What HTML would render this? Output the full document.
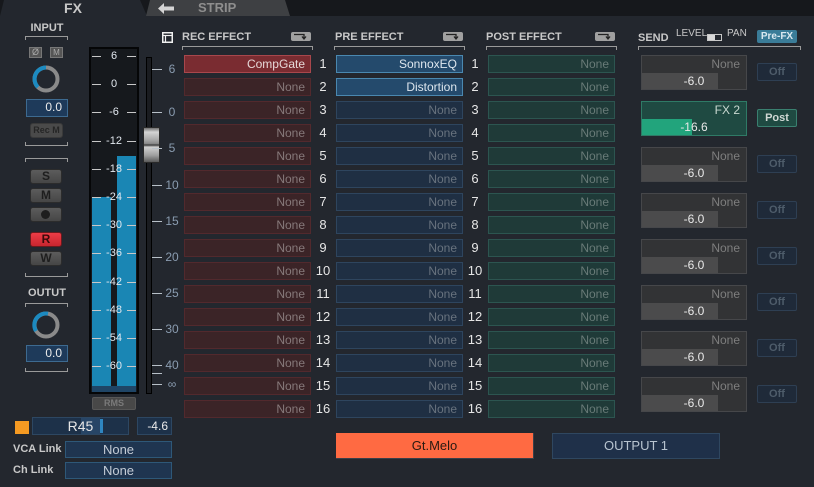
<!DOCTYPE html>
<html><head><meta charset="utf-8">
<style>
*{margin:0;padding:0;box-sizing:border-box}
body{width:814px;height:487px;background:#23272e;position:relative;overflow:hidden;font-family:"Liberation Sans",sans-serif}
div{position:absolute}
.row{left:0;width:814px;height:18px}
.b{height:18px;width:127px;font-size:12px;text-align:right;padding-right:5px;line-height:16px;white-space:nowrap}
.r{left:184px;background:#3b2427;border:1px solid #52292d;color:#86797a}
.p{left:336px;background:#1f2f43;border:1px solid #2e455e;color:#68727e}
.q{left:488px;background:#1f3a38;border:1px solid #2c5550;color:#687a77}
.rh{background:#7a2c31;border-color:#a8474c;color:#e6d8d8}
.ph{background:#244a6c;border-color:#4a88b0;color:#dde6ee}
.n{width:16px;text-align:center;font-size:13px;color:#e6e6e6;line-height:18px;top:0}
.n1{left:315px}.n2{left:467px}
.hd{font-size:11px;font-weight:bold;color:#c8c8c8;top:31px}
.br{height:4px;border:1px solid #9a9a9a;border-bottom:none;}
.brb{height:4px;border:1px solid #9a9a9a;border-top:none;}
.ib{width:20px;height:9px;background:#a0a0a0;border-radius:2px;top:32px}
.sb{left:641px;width:106px;height:35px;background:#323335;border:1px solid #46474a}
.sb .t{right:6px;top:1px;font-size:12px;color:#7e7e7e;line-height:15px}
.sb .lv{left:0;top:17px;width:76px;height:16px;background:#4b4b4c}
.sb .v{left:0;top:17px;width:104px;height:16px;text-align:center;font-size:12px;color:#e8e8e8;line-height:16px}
.off{left:757px;width:40px;height:18px;background:#1f2a39;border:1px solid #2e3f53;border-radius:2px;color:#4e5c6a;font-size:11px;font-weight:bold;text-align:center;line-height:16px}
.lb{left:30px;width:32px;height:15px;border-radius:3px;background:linear-gradient(#5c5c5c,#464646);border:1px solid #2c2c2c;font-size:12px;font-weight:bold;color:#1e1e1e;text-align:center;line-height:13px}
.ml{left:102px;width:24px;text-align:center;font-size:11px;color:#e2e8ef;line-height:14px}
.tk{height:1px;background:#c8c8c8;width:9px}
.ft{left:152px;width:10px;height:1px;background:#b8c0c8}
.fl{left:164px;width:16px;text-align:center;font-size:12px;color:#8a9cb0;line-height:14px}
.vb{background:#1e3a5a;border:1px solid #3d6a90;color:#eaeaea;font-size:12px;text-align:right;padding-right:5px;line-height:15px}
</style></head><body>

<!-- top tab bar -->
<div style="left:0;top:0;width:814px;height:16px;background:#16181c"></div>
<div style="left:0;top:0;width:147px;height:16px;background:#23272e;clip-path:polygon(4px 0,140px 0,147px 16px,0 16px)"></div>
<div style="left:146px;top:0;width:145px;height:16px;background:#3e4043;clip-path:polygon(4px 0,139px 0,144px 16px,0 16px)"></div>
<div style="left:58px;top:0;width:30px;text-align:center;font-size:14px;font-weight:bold;color:#c8c8c8;line-height:16px">FX</div>
<svg style="position:absolute;left:158px;top:3px" width="17" height="11"><path d="M0 5.5 L6 0 L6 3.5 L16 3.5 L16 7.5 L6 7.5 L6 11 Z" fill="#d4d4d4"/></svg>
<div style="left:198px;top:0;font-size:13px;font-weight:bold;color:#8e8e8e;line-height:16px">STRIP</div>

<!-- left panel INPUT -->
<div style="left:26px;top:22px;width:42px;text-align:center;font-size:11px;font-weight:bold;color:#c8c8c8">INPUT</div>
<div class="br" style="left:25px;top:36px;width:43px"></div>
<div style="left:29px;top:47px;width:13px;height:11px;background:#555;border:1px solid #777;font-size:9px;color:#aaa;text-align:center;line-height:9px">Ø</div>
<div style="left:50px;top:47px;width:13px;height:11px;background:#555;border:1px solid #777;font-size:8px;color:#aaa;text-align:center;line-height:9px">M</div>
<svg style="position:absolute;left:30px;top:63px" width="32" height="32"><circle cx="16" cy="16" r="11.5" fill="none" stroke="#8a8a8a" stroke-width="4"/><path d="M7.9 24.1 A11.5 11.5 0 0 1 16 4.5" fill="none" stroke="#1c8ac0" stroke-width="4"/></svg>
<div class="vb" style="left:26px;top:99px;width:42px;height:18px">0.0</div>
<div style="left:30px;top:123px;width:33px;height:15px;border-radius:3px;background:#4a4a4a;border:1px solid #3a3a3a;font-size:9px;font-weight:bold;color:#262626;text-align:center;line-height:13px">Rec M</div>
<div class="brb" style="left:25px;top:142px;width:43px"></div>

<div class="br" style="left:25px;top:158px;width:43px"></div>
<div class="lb" style="top:169px">S</div>
<div class="lb" style="top:188px">M</div>
<div class="lb" style="top:207px"><div style="left:10px;top:2px;width:9px;height:9px;border-radius:50%;background:#1e1e1e"></div></div>
<div class="lb" style="top:232px;background:linear-gradient(#ec3c46,#c8262f);border-color:#6a1a1e;color:#3a0a0a">R</div>
<div class="lb" style="top:251px">W</div>
<div class="brb" style="left:25px;top:273px;width:43px"></div>

<div style="left:26px;top:287px;width:42px;text-align:center;font-size:11px;font-weight:bold;color:#c8c8c8">OUTUT</div>
<div class="br" style="left:25px;top:303px;width:43px"></div>
<svg style="position:absolute;left:30px;top:309px" width="32" height="32"><circle cx="16" cy="16" r="11.5" fill="none" stroke="#8a8a8a" stroke-width="4"/><path d="M6 22 A11.5 11.5 0 0 1 18 4.7" fill="none" stroke="#1c8ac0" stroke-width="4"/></svg>
<div class="vb" style="left:26px;top:345px;width:42px;height:17px">0.0</div>
<div class="brb" style="left:25px;top:368px;width:43px"></div>

<!-- meter -->
<div style="left:89px;top:47px;width:50px;height:347px;background:#16191d;border:2px solid #050607"></div>
<div style="left:92px;top:197px;width:19px;height:189px;background:#1a86b4"></div>
<div style="left:117px;top:156px;width:19px;height:230px;background:#1a86b4"></div>
<div style="left:92px;top:386px;width:44px;height:6px;background:#1f4566"></div>

<div class="tk" style="left:92px;top:56px"></div><div class="tk" style="left:127px;top:56px"></div><div class="ml" style="top:49px">6</div>
<div class="tk" style="left:92px;top:84px"></div><div class="tk" style="left:127px;top:84px"></div><div class="ml" style="top:77px">0</div>
<div class="tk" style="left:92px;top:112px"></div><div class="tk" style="left:127px;top:112px"></div><div class="ml" style="top:105px">-6</div>
<div class="tk" style="left:92px;top:141px"></div><div class="tk" style="left:127px;top:141px"></div><div class="ml" style="top:134px">-12</div>
<div class="tk" style="left:92px;top:169px"></div><div class="tk" style="left:127px;top:169px"></div><div class="ml" style="top:162px">-18</div>
<div class="tk" style="left:92px;top:197px"></div><div class="tk" style="left:127px;top:197px"></div><div class="ml" style="top:190px">-24</div>
<div class="tk" style="left:92px;top:225px"></div><div class="tk" style="left:127px;top:225px"></div><div class="ml" style="top:218px">-30</div>
<div class="tk" style="left:92px;top:253px"></div><div class="tk" style="left:127px;top:253px"></div><div class="ml" style="top:246px">-36</div>
<div class="tk" style="left:92px;top:282px"></div><div class="tk" style="left:127px;top:282px"></div><div class="ml" style="top:275px">-42</div>
<div class="tk" style="left:92px;top:310px"></div><div class="tk" style="left:127px;top:310px"></div><div class="ml" style="top:303px">-48</div>
<div class="tk" style="left:92px;top:338px"></div><div class="tk" style="left:127px;top:338px"></div><div class="ml" style="top:331px">-54</div>
<div class="tk" style="left:92px;top:366px"></div><div class="tk" style="left:127px;top:366px"></div><div class="ml" style="top:359px">-60</div>

<div style="left:92px;top:397px;width:44px;height:13px;background:#484848;border:1px solid #575757;border-radius:2px;font-size:9px;font-weight:bold;color:#7a7a7a;text-align:center;line-height:11px">RMS</div>

<!-- fader -->
<div style="left:146px;top:57px;width:6px;height:337px;background:#1a1c20;border:1px solid #000"></div>
<div style="left:143px;top:127px;width:17px;height:36px;border:1px solid #2a2a2a;background:linear-gradient(#707070 0%,#d4d4d4 12%,#a8a8a8 35%,#8a8a8a 46%,#3a3a3a 50%,#d0d0d0 56%,#a0a0a0 80%,#5a5a5a 100%)"></div>
<div class="ft" style="top:69px"></div><div class="fl" style="top:62px">6</div>
<div class="ft" style="top:112px"></div><div class="fl" style="top:105px">0</div>
<div class="ft" style="top:148px"></div><div class="fl" style="top:141px">5</div>
<div class="ft" style="top:185px"></div><div class="fl" style="top:178px">10</div>
<div class="ft" style="top:221px"></div><div class="fl" style="top:214px">15</div>
<div class="ft" style="top:257px"></div><div class="fl" style="top:250px">20</div>
<div class="ft" style="top:293px"></div><div class="fl" style="top:286px">25</div>
<div class="ft" style="top:329px"></div><div class="fl" style="top:322px">30</div>
<div class="ft" style="top:365px"></div><div class="fl" style="top:358px">40</div>
<div class="ft" style="top:373px"></div>
<div class="ft" style="top:384px"></div><div class="fl" style="top:377px">∞</div>

<!-- bottom left -->
<div style="left:15px;top:421px;width:14px;height:13px;background:#f59a22"></div>
<div style="left:32px;top:417px;width:97px;height:18px;background:#1d3149;border:1px solid #2d4762"></div>
<div style="left:81px;top:418px;width:19px;height:16px;background:#274566"></div>
<div style="left:100px;top:419px;width:3px;height:14px;background:#2f86c0"></div>
<div style="left:32px;top:417px;width:97px;height:18px;text-align:center;font-size:14px;color:#e6e6e6;line-height:18px">R45</div>
<div class="vb" style="left:137px;top:417px;width:35px;height:18px;background:#1d3149;border-color:#2d4762;padding-right:3px;line-height:16px">-4.6</div>
<div style="left:13px;top:442px;font-size:11px;font-weight:bold;color:#c8c8c8;line-height:14px">VCA Link</div>
<div style="left:65px;top:441px;width:107px;height:17px;background:#1f3550;border:1px solid #2e5878;text-align:center;font-size:13px;color:#c4ccd6;line-height:15px">None</div>
<div style="left:13px;top:463px;font-size:11px;font-weight:bold;color:#c8c8c8;line-height:14px">Ch Link</div>
<div style="left:65px;top:462px;width:107px;height:17px;background:#1f3550;border:1px solid #2e5878;text-align:center;font-size:13px;color:#c4ccd6;line-height:15px">None</div>

<!-- headers -->
<svg style="position:absolute;left:162px;top:32px" width="11" height="11"><rect x="0.75" y="0.75" width="9.5" height="9.5" fill="none" stroke="#f0f0f0" stroke-width="1.5"/><line x1="1" y1="3.5" x2="10" y2="3.5" stroke="#f0f0f0" stroke-width="1.2"/><line x1="3.5" y1="3.5" x2="3.5" y2="10" stroke="#f0f0f0" stroke-width="1.2"/></svg>
<div class="hd" style="left:182px">REC EFFECT</div>
<div class="ib" style="left:291px"><svg width="20" height="9" style="position:absolute;left:0;top:0"><path d="M3 2.5 H13 V6.5 M11 4.5 L13 7 L15 4.5" fill="none" stroke="#222" stroke-width="1.3"/></svg></div>
<div class="br" style="left:182px;top:46px;width:131px"></div>
<div class="hd" style="left:335px">PRE EFFECT</div>
<div class="ib" style="left:443px"><svg width="20" height="9" style="position:absolute;left:0;top:0"><path d="M3 2.5 H13 V6.5 M11 4.5 L13 7 L15 4.5" fill="none" stroke="#222" stroke-width="1.3"/></svg></div>
<div class="br" style="left:334px;top:46px;width:131px"></div>
<div class="hd" style="left:486px">POST EFFECT</div>
<div class="ib" style="left:595px"><svg width="20" height="9" style="position:absolute;left:0;top:0"><path d="M3 2.5 H13 V6.5 M11 4.5 L13 7 L15 4.5" fill="none" stroke="#222" stroke-width="1.3"/></svg></div>
<div class="br" style="left:486px;top:46px;width:131px"></div>

<div class="hd" style="left:638px;top:32px">SEND</div>
<div style="left:676px;top:28px;font-size:10px;color:#c8c8c8">LEVEL</div>
<div style="left:707px;top:34px;width:15px;height:7px;border:1px solid #c8c8c8;background:#23272e"><div style="left:0;top:0;width:7px;height:5px;background:#d8d8d8"></div></div>
<div style="left:727px;top:28px;font-size:10px;color:#c8c8c8">PAN</div>
<div style="left:757px;top:30px;width:40px;height:13px;background:#3a7c98;border-radius:2px;font-size:10px;font-weight:bold;color:#dbe9f0;text-align:center;line-height:13px">Pre-FX</div>
<div class="br" style="left:638px;top:46px;width:163px"></div>

<!-- rows -->
<div class="row" style="top:55px"><div class="b r rh">CompGate</div><div class="n n1">1</div><div class="b p ph">SonnoxEQ</div><div class="n n2">1</div><div class="b q">None</div></div>
<div class="row" style="top:78px"><div class="b r">None</div><div class="n n1">2</div><div class="b p ph">Distortion</div><div class="n n2">2</div><div class="b q">None</div></div>
<div class="row" style="top:101px"><div class="b r">None</div><div class="n n1">3</div><div class="b p">None</div><div class="n n2">3</div><div class="b q">None</div></div>
<div class="row" style="top:124px"><div class="b r">None</div><div class="n n1">4</div><div class="b p">None</div><div class="n n2">4</div><div class="b q">None</div></div>
<div class="row" style="top:147px"><div class="b r">None</div><div class="n n1">5</div><div class="b p">None</div><div class="n n2">5</div><div class="b q">None</div></div>
<div class="row" style="top:170px"><div class="b r">None</div><div class="n n1">6</div><div class="b p">None</div><div class="n n2">6</div><div class="b q">None</div></div>
<div class="row" style="top:193px"><div class="b r">None</div><div class="n n1">7</div><div class="b p">None</div><div class="n n2">7</div><div class="b q">None</div></div>
<div class="row" style="top:216px"><div class="b r">None</div><div class="n n1">8</div><div class="b p">None</div><div class="n n2">8</div><div class="b q">None</div></div>
<div class="row" style="top:239px"><div class="b r">None</div><div class="n n1">9</div><div class="b p">None</div><div class="n n2">9</div><div class="b q">None</div></div>
<div class="row" style="top:262px"><div class="b r">None</div><div class="n n1">10</div><div class="b p">None</div><div class="n n2">10</div><div class="b q">None</div></div>
<div class="row" style="top:285px"><div class="b r">None</div><div class="n n1">11</div><div class="b p">None</div><div class="n n2">11</div><div class="b q">None</div></div>
<div class="row" style="top:308px"><div class="b r">None</div><div class="n n1">12</div><div class="b p">None</div><div class="n n2">12</div><div class="b q">None</div></div>
<div class="row" style="top:331px"><div class="b r">None</div><div class="n n1">13</div><div class="b p">None</div><div class="n n2">13</div><div class="b q">None</div></div>
<div class="row" style="top:354px"><div class="b r">None</div><div class="n n1">14</div><div class="b p">None</div><div class="n n2">14</div><div class="b q">None</div></div>
<div class="row" style="top:377px"><div class="b r">None</div><div class="n n1">15</div><div class="b p">None</div><div class="n n2">15</div><div class="b q">None</div></div>
<div class="row" style="top:400px"><div class="b r">None</div><div class="n n1">16</div><div class="b p">None</div><div class="n n2">16</div><div class="b q">None</div></div>

<!-- sends -->
<div class="sb" style="top:55px"><div class="t">None</div><div class="lv"></div><div class="v">-6.0</div></div>
<div class="off" style="top:63px">Off</div>
<div class="sb" style="top:101px;background:#1f4a42;border-color:#2f7a66"><div class="t" style="color:#c8d8d0">FX 2</div><div class="lv" style="width:50px;background:#22a47c"></div><div class="v">-16.6</div></div>
<div class="off" style="top:109px;background:#1f4a42;border-color:#3a8070;color:#d0d8d4">Post</div>
<div class="sb" style="top:147px"><div class="t">None</div><div class="lv"></div><div class="v">-6.0</div></div>
<div class="off" style="top:155px">Off</div>
<div class="sb" style="top:193px"><div class="t">None</div><div class="lv"></div><div class="v">-6.0</div></div>
<div class="off" style="top:201px">Off</div>
<div class="sb" style="top:239px"><div class="t">None</div><div class="lv"></div><div class="v">-6.0</div></div>
<div class="off" style="top:247px">Off</div>
<div class="sb" style="top:285px"><div class="t">None</div><div class="lv"></div><div class="v">-6.0</div></div>
<div class="off" style="top:293px">Off</div>
<div class="sb" style="top:331px"><div class="t">None</div><div class="lv"></div><div class="v">-6.0</div></div>
<div class="off" style="top:339px">Off</div>
<div class="sb" style="top:377px"><div class="t">None</div><div class="lv"></div><div class="v">-6.0</div></div>
<div class="off" style="top:385px">Off</div>

<!-- bottom buttons -->
<div style="left:336px;top:433px;width:198px;height:26px;background:#ff6a42;border:1px solid #3a3f48;border-left:none;border-top:none;text-align:center;font-size:13px;color:#2a1a12;line-height:25px">Gt.Melo</div>
<div style="left:552px;top:433px;width:168px;height:26px;background:#1f3049;border:1px solid #2f4760;text-align:center;font-size:13px;color:#b8c4d0;line-height:24px">OUTPUT 1</div>

</body></html>
